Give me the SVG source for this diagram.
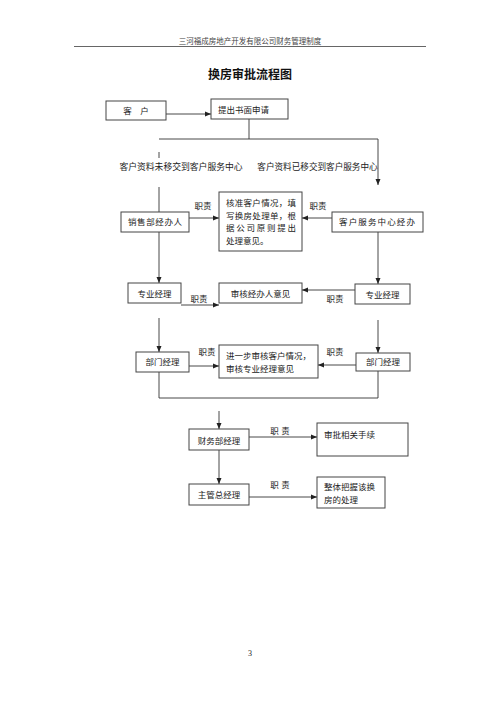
<svg xmlns="http://www.w3.org/2000/svg" width="500" height="707" viewBox="0 0 500 707">
<defs>
<marker id="ah" viewBox="0 0 6 6" refX="6" refY="3" markerWidth="6" markerHeight="6" markerUnits="userSpaceOnUse" orient="auto">
<path d="M0,0.5 L6,3 L0,5.5 z" fill="#222"/>
</marker>
</defs>
<style>
.box{fill:#fff;stroke:#444;stroke-width:1}
.t{font-family:"Liberation Serif","Noto Sans CJK SC",serif;font-size:8.5px;fill:#222}
.s{font-family:"Liberation Sans","Noto Sans CJK SC",sans-serif;font-size:8.5px;fill:#222}
.c{text-anchor:middle}
.ln{fill:none;stroke:#333;stroke-width:0.9}
.ar{fill:none;stroke:#333;stroke-width:0.9;marker-end:url(#ah)}
</style>
<rect width="500" height="707" fill="#fff"/>
<g id="header">
<text x="250" y="44" class="t c" style="font-size:7.5px;fill:#444">三河福成房地产开发有限公司财务管理制度</text>
<line x1="74" y1="46.5" x2="426" y2="46.5" stroke="#666" stroke-width="1"/>
<text x="250" y="79" class="s c" style="font-size:12px;font-weight:bold;fill:#111">换房审批流程图</text>
</g>
<g id="connectors">
<line class="ar" x1="166" y1="114" x2="211" y2="114"/>
<line class="ln" x1="249" y1="119" x2="249" y2="139"/>
<line class="ln" x1="159" y1="139" x2="378" y2="139"/>
<line class="ar" x1="378" y1="139" x2="378" y2="185"/>
<line class="ln" x1="159" y1="152" x2="159" y2="158"/>
<line class="ln" x1="159" y1="187" x2="159" y2="212"/>
<line class="ar" x1="189" y1="218" x2="219" y2="218"/>
<line class="ar" x1="332" y1="218" x2="302" y2="218"/>
<line class="ar" x1="159" y1="232" x2="159" y2="283"/>
<line class="ar" x1="378" y1="232" x2="378" y2="284"/>
<line class="ar" x1="181" y1="305" x2="219" y2="305"/>
<line class="ar" x1="355" y1="290" x2="302" y2="290"/>
<line class="ar" x1="159" y1="318" x2="159" y2="352"/>
<line class="ar" x1="378" y1="320" x2="378" y2="353"/>
<line class="ar" x1="189" y1="366" x2="219" y2="366"/>
<line class="ar" x1="356" y1="365" x2="318" y2="365"/>
<polyline class="ln" points="159,372 159,398 378,398 378,371"/>
<line class="ar" x1="219" y1="411" x2="219" y2="429"/>
<line class="ar" x1="249" y1="437" x2="317" y2="437"/>
<line class="ar" x1="219" y1="450" x2="219" y2="484"/>
<line class="ar" x1="249" y1="497" x2="317" y2="497"/>
</g>
<g id="labels">
<text x="181" y="170" class="s c" style="font-size:8.8px">客户资料未移交到客户服务中心</text>
<text x="317.5" y="170" class="s c" style="font-size:8.6px">客户资料已移交到客户服务中心</text>
<text x="203" y="209" class="s c">职责</text>
<text x="318" y="209" class="s c">职责</text>
<text x="199" y="302" class="s c">职责</text>
<text x="335" y="302" class="s c">职责</text>
<text x="207" y="355" class="s c">职责</text>
<text x="335" y="355" class="s c">职责</text>
<text x="280" y="434" class="s c">职 责</text>
<text x="280" y="487.5" class="s c">职 责</text>
</g>
<g id="n-kehu"><rect class="box" x="106" y="101" width="60" height="19"/><text x="136" y="114" class="t c">客　户</text></g>
<g id="n-tichu"><rect class="box" x="211" y="99" width="77" height="20"/><text x="218" y="113" class="t">提出书面申请</text></g>
<g id="n-xiaoshou"><rect class="box" x="121" y="212" width="68" height="20"/><text x="155" y="225" class="t c" textLength="54">销售部经办人</text></g>
<g id="n-hezhun"><rect class="box" x="219" y="192" width="83" height="59"/>
<text x="226" y="206" class="t" textLength="70">核准客户情况，填</text>
<text x="226" y="218.5" class="t" textLength="70">写换房处理单，根</text>
<text x="226" y="231" class="t" textLength="70">据公司原则提出</text>
<text x="226" y="243.5" class="t">处理意见。</text></g>
<g id="n-kefu"><rect class="box" x="332" y="212" width="91" height="20"/><text x="339" y="225" class="t" textLength="76">客户服务中心经办</text></g>
<g id="n-zhuanye-l"><rect class="box" x="128" y="283" width="53" height="20"/><text x="154.5" y="296.5" class="t c">专业经理</text></g>
<g id="n-shenhe"><rect class="box" x="219" y="283" width="83" height="20"/><text x="260.5" y="296.5" class="t c">审核经办人意见</text></g>
<g id="n-zhuanye-r"><rect class="box" x="355" y="284" width="55" height="20"/><text x="382.5" y="297.5" class="t c">专业经理</text></g>
<g id="n-bumen-l"><rect class="box" x="136" y="352" width="53" height="20"/><text x="162.5" y="365" class="t c">部门经理</text></g>
<g id="n-jinyibu"><rect class="box" x="219" y="345" width="99" height="33"/>
<text x="226" y="359" class="t">进一步审核客户情况，</text>
<text x="226" y="372" class="t">审核专业经理意见</text></g>
<g id="n-bumen-r"><rect class="box" x="356" y="353" width="54" height="18"/><text x="383" y="365" class="t c">部门经理</text></g>
<g id="n-caiwu"><rect class="box" x="189" y="429" width="60" height="21"/><text x="219" y="443.5" class="t c">财务部经理</text></g>
<g id="n-shenpi"><rect class="box" x="317" y="423" width="91" height="33"/><text x="324" y="438" class="t">审批相关手续</text></g>
<g id="n-zhuguan"><rect class="box" x="189" y="484" width="60" height="21"/><text x="219" y="498" class="t c">主管总经理</text></g>
<g id="n-zhengti"><rect class="box" x="317" y="477" width="68" height="31"/>
<text x="324" y="490" class="t">整体把握该换</text>
<text x="324" y="503" class="t">房的处理</text></g>
<g id="footer"><text x="250" y="656" class="t c" style="font-size:8px">3</text></g>
</svg>
